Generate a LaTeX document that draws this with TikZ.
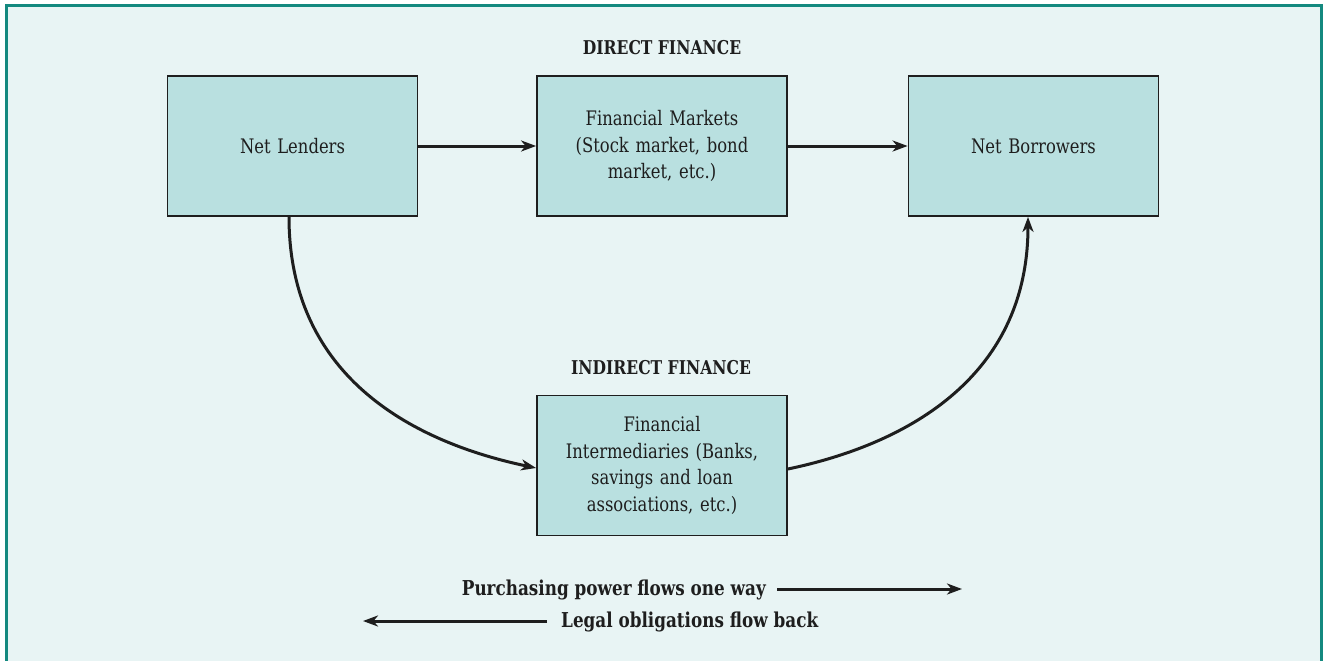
\documentclass[tikz,border=0pt]{standalone}
\usepackage{fontspec}
\setmainfont[FakeStretch=0.82]{DejaVu Serif}
\usetikzlibrary{arrows.meta}
\definecolor{bgc}{HTML}{E8F4F4}
\definecolor{boxc}{HTML}{B9E0E0}
\definecolor{framec}{HTML}{14897F}
\definecolor{inkc}{HTML}{1E1E1E}
\tikzset{
  box/.style={draw=inkc, line width=1.8pt, fill=boxc, minimum width=250pt, minimum height=140pt,
    inner sep=0pt, text width=230pt, align=center, font=\fontsize{20}{26.7}\selectfont, text=inkc},
  title/.style={font=\bfseries\fontsize{19}{22}\selectfont, text=inkc, inner sep=0pt},
  legend/.style={font=\bfseries\fontsize{20.5}{22}\selectfont, text=inkc, inner sep=0pt, anchor=base},
  flow/.style={draw=inkc, line width=3pt, -{Stealth[length=15pt,width=11pt,inset=4.5pt]}},
}
\begin{document}
\begin{tikzpicture}[x=1pt,y=-1pt]
\useasboundingbox (0,0) rectangle (1325,661);
\fill[bgc] (6,6) rectangle (1321,661);
\draw[framec, line width=3pt] (6,661) -- (6,6) -- (1321,6) -- (1321,661);

\node[box] (NL) at (292.5,146) {Net Lenders};
\node[box] (FM) at (662,146) {Financial Markets\\(Stock market, bond\\market, etc.)};
\node[box] (NB) at (1033.5,146) {Net Borrowers};
\node[box] (FI) at (662,465.5) {Financial\\Intermediaries (Banks,\\savings and loan\\associations, etc.)};

\node[title] (DF) at (662,48) {DIRECT FINANCE};
\node[title] (IF) at (661,368) {INDIRECT FINANCE};

\draw[flow] (NL.east) -- (FM.west);
\draw[flow] (FM.east) -- (NB.west);
\draw[flow] ([xshift=-3.5pt]NL.south) .. controls ([xshift=-3.5pt,yshift=-164pt]NL.south) and ([xshift=-117pt,yshift=22pt]FI.west) .. ([yshift=-2.5pt]FI.west);
\draw[flow] ([yshift=-3.5pt]FI.east) .. controls ([xshift=113pt,yshift=20pt]FI.east) and ([xshift=-5.5pt,yshift=-164pt]NB.south) .. ([xshift=-5.5pt]NB.south);

\node[legend, anchor=base east] (PP) at (766,595) {Purchasing power flows one way};
\coordinate (PPend) at (962,589);
\draw[flow] ([xshift=11pt,yshift=6pt]PP.base east) -- (PPend);
\node[legend, anchor=base west] (LO) at (561,627) {Legal obligations flow back};
\coordinate (LOend) at (363,621);
\draw[flow] ([xshift=-14pt,yshift=6pt]LO.base west) -- (LOend);
\end{tikzpicture}
\end{document}
